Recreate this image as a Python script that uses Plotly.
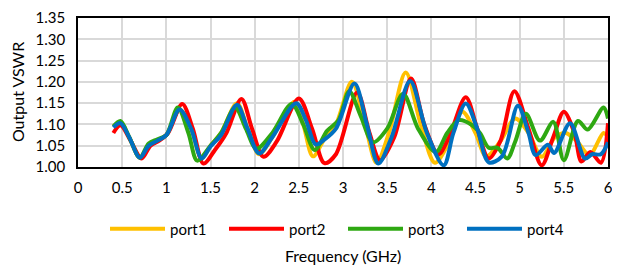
import plotly.graph_objects as go

# ---- data ----
port1_x = [0.40,0.48,0.58,0.70,0.80,0.90,1.00,1.15,1.28,1.40,1.50,1.62,1.80,1.92,2.05,2.20,2.45,2.55,2.66,2.80,2.92,3.10,3.25,3.38,3.52,3.71,3.88,4.04,4.18,4.35,4.50,4.62,4.78,4.95,5.10,5.25,5.40,5.52,5.65,5.79,5.95,6.00]
port1_y = [1.095,1.105,1.07,1.022,1.05,1.062,1.075,1.135,1.09,1.02,1.05,1.08,1.15,1.09,1.03,1.07,1.153,1.10,1.025,1.07,1.10,1.20,1.10,1.01,1.08,1.222,1.10,1.01,1.05,1.13,1.08,1.025,1.06,1.114,1.08,1.024,1.07,1.08,1.06,1.028,1.08,1.07]

port2_x = [0.40,0.48,0.60,0.72,0.82,0.92,1.02,1.18,1.30,1.42,1.55,1.68,1.85,1.97,2.10,2.25,2.50,2.65,2.79,2.92,3.16,3.30,3.42,3.58,3.77,3.92,4.08,4.20,4.39,4.52,4.65,4.78,4.94,5.10,5.25,5.38,5.50,5.62,5.70,5.80,5.92,6.00]
port2_y = [1.08,1.098,1.06,1.02,1.05,1.062,1.08,1.148,1.09,1.008,1.04,1.08,1.160,1.09,1.024,1.06,1.161,1.09,1.009,1.03,1.175,1.08,1.016,1.07,1.208,1.10,1.03,1.07,1.164,1.09,1.02,1.06,1.178,1.09,1.004,1.07,1.13,1.08,1.013,1.035,1.01,1.103]

port3_x = [0.40,0.48,0.58,0.70,0.80,0.90,1.00,1.13,1.25,1.35,1.50,1.62,1.78,1.90,2.02,2.20,2.42,2.55,2.68,2.82,2.95,3.07,3.20,3.34,3.50,3.68,3.85,4.05,4.18,4.31,4.45,4.55,4.65,4.75,4.86,4.95,5.07,5.23,5.38,5.50,5.66,5.77,5.95,6.00]
port3_y = [1.095,1.108,1.07,1.022,1.055,1.065,1.075,1.14,1.08,1.015,1.05,1.08,1.14,1.09,1.043,1.08,1.148,1.10,1.04,1.085,1.11,1.178,1.12,1.058,1.09,1.172,1.09,1.035,1.08,1.11,1.10,1.08,1.045,1.045,1.02,1.06,1.125,1.062,1.106,1.016,1.108,1.088,1.14,1.114]

port4_x = [0.40,0.48,0.58,0.70,0.80,0.90,1.00,1.15,1.28,1.40,1.50,1.62,1.80,1.92,2.05,2.20,2.47,2.58,2.69,2.80,2.92,3.13,3.27,3.40,3.55,3.76,3.95,4.14,4.25,4.39,4.52,4.65,4.80,4.98,5.10,5.18,5.32,5.39,5.57,5.74,5.82,5.92,6.00]
port4_y = [1.093,1.103,1.07,1.022,1.05,1.062,1.075,1.135,1.09,1.02,1.048,1.075,1.146,1.09,1.032,1.07,1.150,1.11,1.053,1.066,1.09,1.196,1.10,1.008,1.07,1.202,1.08,1.004,1.08,1.149,1.09,1.011,1.025,1.144,1.08,1.028,1.052,1.033,1.103,1.02,1.03,1.03,1.058]

x_ticks = [0, 0.5, 1, 1.5, 2, 2.5, 3, 3.5, 4, 4.5, 5, 5.5, 6]
x_tick_labels = ["0", "0.5", "1", "1.5", "2", "2.5", "3", "3.5", "4", "4.5", "5", "5.5", "6"]
y_ticks = [1.00, 1.05, 1.10, 1.15, 1.20, 1.25, 1.30, 1.35]
y_tick_labels = ["1.00", "1.05", "1.10", "1.15", "1.20", "1.25", "1.30", "1.35"]

series = [
    ("port1", port1_x, port1_y, "#FFC000"),
    ("port2", port2_x, port2_y, "#FF0000"),
    ("port3", port3_x, port3_y, "#2EA812"),
    ("port4", port4_x, port4_y, "#0070C0"),
]

FONT = "Lato, 'Open Sans', sans-serif"

fig = go.Figure()
for name, xs, ys, col in series:
    fig.add_trace(go.Scatter(
        x=xs, y=ys, name=name, mode="lines",
        line=dict(color=col, width=4, shape="spline", smoothing=0.9),
    ))

# the page body adds an 8px margin, so the figure is sized to fill the rest
fig.update_layout(
    template="none",
    width=612, height=263,
    margin=dict(l=70, r=12, t=10, b=104, pad=0),
    paper_bgcolor="white", plot_bgcolor="white",
    font=dict(family=FONT, size=14, color="#000000"),
    showlegend=True,
    legend=dict(orientation="h", x=0.5, xanchor="center", y=-0.416, yanchor="middle",
                font=dict(size=15, family=FONT), itemwidth=55, tracegroupgap=0,
                entrywidth=49, entrywidthmode="pixels",
                bgcolor="rgba(0,0,0,0)"),
    xaxis=dict(range=[0, 6], tickvals=x_ticks, ticktext=x_tick_labels,
               showgrid=True, gridcolor="#D9D9D9", gridwidth=1.5,
               showline=True, linecolor="black", linewidth=1.5, mirror=True,
               ticks="", ticklabelstandoff=6, zeroline=False, automargin=False,
               ticklabeloverflow="allow",
               tickfont=dict(size=15, family=FONT)),
    yaxis=dict(range=[1.00, 1.35], tickvals=y_ticks, ticktext=y_tick_labels,
               showgrid=True, gridcolor="#D9D9D9", gridwidth=1.5,
               showline=True, linecolor="black", linewidth=1.5, mirror=True,
               ticks="", ticklabelstandoff=8, zeroline=False, automargin=False,
               ticklabeloverflow="allow",
               tickfont=dict(size=15, family=FONT)),
    annotations=[
        dict(text="Frequency (GHz)", xref="paper", yref="paper", x=0.5, y=-0.597,
             xanchor="center", yanchor="middle", showarrow=False,
             font=dict(size=16, family=FONT)),
        dict(text="Output VSWR", xref="paper", yref="paper", x=-0.114, y=0.5,
             xanchor="center", yanchor="middle", showarrow=False, textangle=-90,
             font=dict(size=16, family=FONT)),
    ],
)

fig.write_html("out.html")
